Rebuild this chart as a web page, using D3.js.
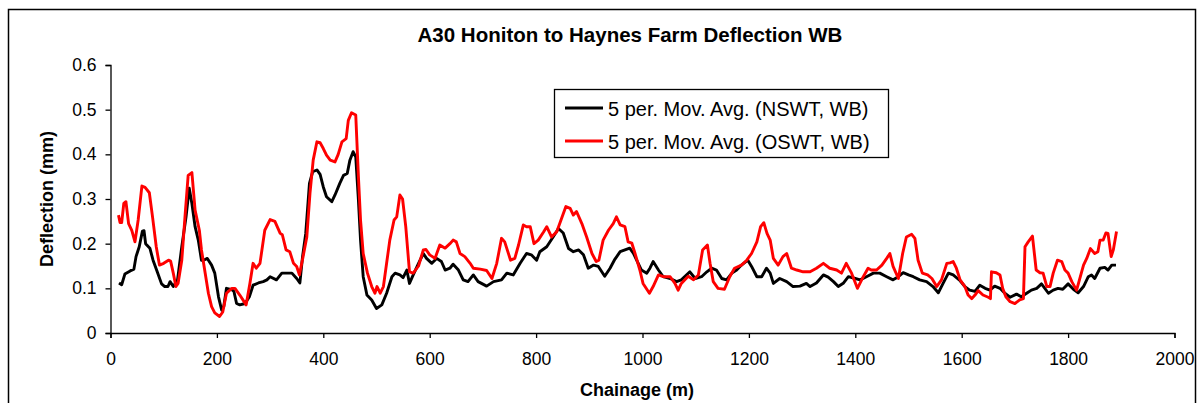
<!DOCTYPE html>
<html lang="en">
<head>
    <meta charset="UTF-8">
    <script src="https://d3js.org/d3.v7.min.js"></script>
    <style>
        body { margin: 0; background: #fff; font-family: Arial, "Liberation Sans", sans-serif; }
        svg text { font-family: Arial, "Liberation Sans", sans-serif; }
    </style>
</head>
<body>
<svg id="chart" width="1204" height="403"></svg>
<script>
// chart data
const chartTitle = "A30 Honiton to Haynes Farm Deflection WB";
const seriesNames = ["5 per. Mov. Avg. (NSWT, WB)", "5 per. Mov. Avg. (OSWT, WB)"];
const xTicks = [0, 200, 400, 600, 800, 1000, 1200, 1400, 1600, 1800, 2000];
const yTicks = [0, 0.1, 0.2, 0.3, 0.4, 0.5, 0.6];

const nswtChainage = [16, 21, 27, 37, 44, 48, 54, 60, 63, 66, 74, 80, 87, 96, 102, 108, 112, 118, 126, 134, 142, 148, 153, 159, 165, 171, 175, 182, 190, 196, 203, 209, 213, 218, 228, 232, 237, 243, 253, 261, 268, 278, 287, 294, 300, 312, 322, 331, 341, 350, 356, 361, 367, 374, 380, 388, 394, 400, 406, 416, 422, 431, 438, 445, 450, 456, 461, 466, 470, 475, 482, 491, 500, 510, 519, 529, 535, 544, 550, 557, 562, 569, 579, 588, 594, 604, 613, 622, 629, 638, 644, 654, 663, 672, 682, 691, 707, 720, 735, 745, 757, 770, 782, 791, 801, 807, 820, 832, 842, 851, 861, 870, 880, 889, 898, 908, 917, 929, 939, 948, 958, 967, 976, 983, 989, 998, 1008, 1014, 1020, 1030, 1039, 1052, 1064, 1073, 1089, 1099, 1111, 1121, 1130, 1139, 1149, 1158, 1168, 1177, 1186, 1198, 1205, 1215, 1224, 1233, 1240, 1246, 1258, 1271, 1283, 1296, 1308, 1315, 1327, 1340, 1349, 1359, 1368, 1378, 1387, 1400, 1409, 1421, 1434, 1446, 1459, 1471, 1481, 1490, 1500, 1509, 1521, 1534, 1546, 1556, 1565, 1575, 1584, 1597, 1606, 1615, 1625, 1634, 1644, 1653, 1662, 1672, 1681, 1691, 1703, 1712, 1722, 1731, 1741, 1750, 1763, 1772, 1781, 1790, 1800, 1810, 1819, 1829, 1838, 1844, 1850, 1860, 1869, 1875, 1882, 1890];
const nswtValues = [0.112, 0.108, 0.132, 0.139, 0.143, 0.171, 0.193, 0.228, 0.229, 0.2, 0.19, 0.163, 0.14, 0.11, 0.104, 0.104, 0.115, 0.104, 0.119, 0.193, 0.26, 0.324, 0.29, 0.238, 0.208, 0.163, 0.163, 0.167, 0.152, 0.134, 0.081, 0.051, 0.06, 0.1, 0.097, 0.093, 0.066, 0.063, 0.066, 0.081, 0.107, 0.112, 0.115, 0.119, 0.126, 0.119, 0.134, 0.134, 0.134, 0.122, 0.112, 0.171, 0.223, 0.335, 0.361, 0.365, 0.355, 0.327, 0.305, 0.294, 0.309, 0.335, 0.353, 0.357, 0.387, 0.406, 0.394, 0.298, 0.208, 0.126, 0.085, 0.074, 0.055, 0.063, 0.089, 0.126, 0.134, 0.13, 0.124, 0.141, 0.111, 0.13, 0.156, 0.178, 0.167, 0.156, 0.167, 0.16, 0.141, 0.145, 0.154, 0.141, 0.119, 0.115, 0.13, 0.115, 0.105, 0.115, 0.119, 0.134, 0.13, 0.156, 0.178, 0.175, 0.163, 0.182, 0.193, 0.215, 0.234, 0.224, 0.189, 0.182, 0.186, 0.175, 0.145, 0.152, 0.149, 0.127, 0.145, 0.165, 0.182, 0.186, 0.19, 0.178, 0.163, 0.141, 0.134, 0.145, 0.16, 0.141, 0.126, 0.122, 0.115, 0.119, 0.137, 0.122, 0.126, 0.137, 0.145, 0.141, 0.122, 0.119, 0.134, 0.141, 0.152, 0.163, 0.149, 0.126, 0.126, 0.145, 0.134, 0.111, 0.122, 0.115, 0.104, 0.105, 0.111, 0.104, 0.112, 0.13, 0.125, 0.115, 0.104, 0.112, 0.126, 0.122, 0.119, 0.126, 0.134, 0.134, 0.126, 0.119, 0.126, 0.135, 0.13, 0.126, 0.119, 0.115, 0.104, 0.09, 0.111, 0.134, 0.13, 0.117, 0.104, 0.096, 0.093, 0.107, 0.1, 0.096, 0.105, 0.1, 0.089, 0.08, 0.087, 0.081, 0.089, 0.096, 0.1, 0.11, 0.089, 0.096, 0.1, 0.098, 0.11, 0.098, 0.09, 0.104, 0.126, 0.13, 0.122, 0.145, 0.147, 0.141, 0.152, 0.152];

const oswtChainage = [15, 18, 21, 25, 29, 34, 40, 46, 52, 59, 65, 73, 79, 86, 92, 100, 109, 113, 118, 123, 127, 134, 140, 146, 153, 159, 167, 171, 178, 184, 190, 196, 205, 211, 218, 228, 234, 243, 255, 262, 268, 274, 281, 290, 300, 309, 319, 323, 330, 337, 344, 350, 355, 362, 369, 375, 381, 388, 394, 400, 406, 413, 422, 428, 435, 443, 447, 453, 461, 466, 470, 475, 483, 491, 497, 501, 507, 513, 519, 525, 533, 538, 544, 549, 555, 562, 569, 579, 588, 593, 600, 610, 619, 629, 638, 644, 650, 657, 666, 676, 682, 695, 707, 717, 726, 735, 741, 752, 760, 767, 776, 782, 789, 796, 804, 814, 820, 829, 839, 848, 856, 864, 870, 876, 886, 895, 905, 913, 918, 926, 936, 945, 951, 958, 967, 973, 980, 986, 995, 1001, 1013, 1020, 1030, 1039, 1052, 1061, 1067, 1073, 1086, 1096, 1105, 1113, 1122, 1127, 1133, 1142, 1154, 1164, 1173, 1186, 1196, 1205, 1215, 1222, 1228, 1234, 1240, 1246, 1255, 1264, 1271, 1280, 1290, 1302, 1315, 1327, 1340, 1352, 1365, 1374, 1383, 1393, 1404, 1415, 1424, 1430, 1440, 1450, 1459, 1465, 1471, 1481, 1489, 1496, 1506, 1512, 1518, 1526, 1536, 1544, 1553, 1562, 1572, 1578, 1584, 1590, 1597, 1606, 1612, 1619, 1625, 1631, 1640, 1650, 1654, 1656, 1665, 1672, 1677, 1683, 1691, 1700, 1709, 1716, 1719, 1725, 1733, 1740, 1747, 1753, 1760, 1766, 1772, 1780, 1788, 1794, 1800, 1807, 1816, 1823, 1829, 1835, 1842, 1850, 1856, 1860, 1866, 1871, 1875, 1881, 1885, 1891];
const oswtValues = [0.264, 0.247, 0.247, 0.29, 0.294, 0.245, 0.23, 0.204, 0.253, 0.329, 0.326, 0.314, 0.26, 0.193, 0.152, 0.156, 0.163, 0.161, 0.134, 0.104, 0.111, 0.163, 0.26, 0.353, 0.359, 0.275, 0.23, 0.186, 0.134, 0.089, 0.059, 0.045, 0.037, 0.047, 0.089, 0.1, 0.1, 0.085, 0.063, 0.111, 0.156, 0.145, 0.156, 0.23, 0.254, 0.25, 0.223, 0.22, 0.186, 0.182, 0.156, 0.149, 0.13, 0.171, 0.215, 0.313, 0.387, 0.428, 0.426, 0.413, 0.398, 0.387, 0.383, 0.4, 0.428, 0.435, 0.476, 0.493, 0.488, 0.35, 0.253, 0.178, 0.134, 0.104, 0.089, 0.104, 0.089, 0.104, 0.156, 0.208, 0.253, 0.26, 0.309, 0.3, 0.238, 0.137, 0.134, 0.15, 0.186, 0.187, 0.175, 0.167, 0.197, 0.19, 0.2, 0.208, 0.204, 0.178, 0.171, 0.156, 0.145, 0.143, 0.14, 0.122, 0.156, 0.212, 0.204, 0.163, 0.167, 0.197, 0.242, 0.238, 0.238, 0.2, 0.208, 0.226, 0.238, 0.215, 0.227, 0.257, 0.283, 0.279, 0.264, 0.272, 0.245, 0.215, 0.178, 0.16, 0.163, 0.208, 0.23, 0.245, 0.26, 0.242, 0.238, 0.204, 0.201, 0.178, 0.141, 0.111, 0.089, 0.104, 0.13, 0.126, 0.126, 0.111, 0.096, 0.111, 0.127, 0.119, 0.13, 0.186, 0.197, 0.156, 0.115, 0.1, 0.098, 0.126, 0.145, 0.152, 0.163, 0.178, 0.204, 0.238, 0.247, 0.223, 0.208, 0.167, 0.152, 0.171, 0.178, 0.145, 0.141, 0.137, 0.137, 0.145, 0.156, 0.145, 0.141, 0.134, 0.156, 0.134, 0.1, 0.126, 0.145, 0.141, 0.141, 0.152, 0.167, 0.178, 0.149, 0.122, 0.178, 0.215, 0.221, 0.212, 0.163, 0.134, 0.13, 0.122, 0.104, 0.119, 0.156, 0.157, 0.16, 0.145, 0.119, 0.104, 0.085, 0.077, 0.085, 0.095, 0.085, 0.08, 0.077, 0.137, 0.135, 0.13, 0.1, 0.081, 0.07, 0.066, 0.074, 0.077, 0.193, 0.204, 0.217, 0.141, 0.135, 0.134, 0.104, 0.104, 0.134, 0.163, 0.16, 0.141, 0.134, 0.115, 0.096, 0.126, 0.152, 0.167, 0.189, 0.178, 0.182, 0.208, 0.208, 0.224, 0.223, 0.171, 0.186, 0.227];

const seriesColors = ["#000000", "#ff0000"];

const svg = d3.select("#chart");

// outer chart frame
svg.append("rect")
    .attr("x", 8.5).attr("y", 9.5)
    .attr("width", 1187).attr("height", 420)
    .attr("fill", "none").attr("stroke", "#000").attr("stroke-width", 1.5);

const x = d3.scaleLinear().domain([0, 2000]).range([110.5, 1174.5]);
const y = d3.scaleLinear().domain([0, 0.6]).range([333, 65]);

// title
svg.append("text")
    .attr("x", 630).attr("y", 42)
    .attr("text-anchor", "middle")
    .style("font-size", "20.5px").style("font-weight", "bold")
    .text(chartTitle);

// axes
const xAxis = svg.append("g")
    .attr("transform", `translate(0,${y(0)})`)
    .call(d3.axisBottom(x).tickValues(xTicks).tickSize(5).tickPadding(15).tickFormat(d3.format("d")));
const yAxis = svg.append("g")
    .attr("transform", `translate(${x(0)},0)`)
    .call(d3.axisLeft(y).tickValues(yTicks).tickSize(5).tickPadding(9)
        .tickFormat(d => d === 0 ? "0" : d3.format(".1f")(d)));

[xAxis, yAxis].forEach(g => {
    g.select(".domain").attr("stroke", "#000").attr("stroke-width", 1.3);
    g.selectAll(".tick line").attr("stroke", "#000").attr("stroke-width", 1.3);
    g.selectAll(".tick text").attr("fill", "#000").style("font-size", "17.5px")
        .style("font-family", "Arial, 'Liberation Sans', sans-serif");
});

// axis labels
svg.append("text")
    .attr("x", 637).attr("y", 396)
    .attr("text-anchor", "middle")
    .style("font-size", "18px").style("font-weight", "bold")
    .text("Chainage (m)");
svg.append("text")
    .attr("transform", `translate(53,199) rotate(-90)`)
    .attr("text-anchor", "middle")
    .style("font-size", "18px").style("font-weight", "bold")
    .text("Deflection (mm)");

// series lines
const series = [
    { xs: nswtChainage, ys: nswtValues },
    { xs: oswtChainage, ys: oswtValues }
];
const line = d3.line().x(d => x(d[0])).y(d => y(d[1]));

// red drawn last (on top), as in the picture
series.forEach((s, i) => {
    const pts = s.xs.map((c, j) => [c, s.ys[j]]);
    svg.append("path")
        .datum(pts)
        .attr("fill", "none")
        .attr("stroke", seriesColors[i])
        .attr("stroke-width", 2.9)
        .attr("stroke-linejoin", "round")
        .attr("d", line);
});

// legend
const legend = svg.append("g");
legend.append("rect")
    .attr("x", 554.5).attr("y", 89.5)
    .attr("width", 334).attr("height", 68)
    .attr("fill", "#fff").attr("stroke", "#000").attr("stroke-width", 1.3);
seriesNames.forEach((name, i) => {
    const ly = 108 + i * 33;
    legend.append("line")
        .attr("x1", 565).attr("x2", 603)
        .attr("y1", ly).attr("y2", ly)
        .attr("stroke", seriesColors[i]).attr("stroke-width", 2.9);
    legend.append("text")
        .attr("x", 608).attr("y", ly + 8)
        .style("font-size", "20px")
        .text(name);
});
</script>
</body>
</html>
